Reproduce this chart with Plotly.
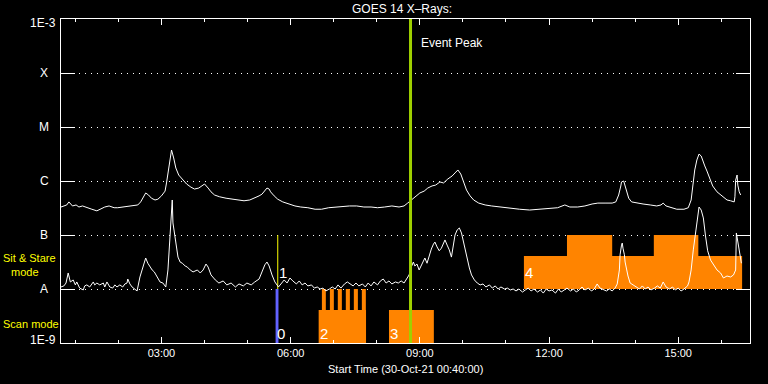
import math
import plotly.graph_objects as go
import pandas as pd

# ---------------- data ----------------
start_time = "2021-10-30 00:40:00"
end_time = "2021-10-30 16:40:00"

# GOES 14 long channel (1-8 A), minutes after start time, flux W/m^2
long_min = [0, 4, 8, 11, 14, 16, 21, 25, 30, 36, 43, 50, 55, 61, 67, 74, 79, 86, 93, 100,
            107, 111, 115, 118, 122, 126, 131, 135, 140, 145, 147, 150, 153, 154, 157, 160, 164, 170, 175, 181,
            186, 192, 196, 200, 205, 209, 214, 221, 230, 238, 246, 255, 263, 270, 276, 280, 284, 287, 290, 292,
            297, 302, 309, 317, 326, 334, 344, 354, 363, 373, 383, 393, 402, 412, 422, 432, 441, 451, 461, 471,
            478, 483, 489, 494, 500, 506, 511, 517, 522, 528, 533, 539, 545, 549, 553, 557, 561, 565, 570, 575,
            582, 591, 600, 611, 625, 639, 653, 667, 681, 692, 702, 709, 720, 730, 740, 748, 758, 768, 773, 777,
            780, 781, 784, 786, 788, 791, 795, 802, 811, 821, 830, 836, 839, 843, 850, 858, 868, 874, 878, 880,
            883, 886, 889, 892, 894, 897, 900, 904, 908, 914, 921, 928, 933, 938, 939, 940, 942, 943, 945, 947]
long_flux = [3.3e-7, 3.45e-7, 3.6e-7, 4.1e-7, 3.75e-7, 3.45e-7, 3.6e-7, 3.3e-7, 3.45e-7, 3.2e-7,
             3.0e-7, 2.8e-7, 3.0e-7, 3.3e-7, 3.45e-7, 3.2e-7, 3.2e-7, 3.3e-7, 3.3e-7, 3.45e-7,
             3.6e-7, 4.1e-7, 5.1e-7, 6.0e-7, 5.5e-7, 4.8e-7, 4.45e-7, 4.6e-7, 5.3e-7, 6.5e-7,
             9.2e-7, 1.74e-6, 3.44e-6, 3.75e-6, 2.67e-6, 1.74e-6, 1.29e-6, 1.04e-6, 8.8e-7, 7.7e-7,
             7.1e-7, 7.4e-7, 8.1e-7, 8.8e-7, 7.4e-7, 6.3e-7, 5.5e-7, 5.1e-7, 4.8e-7, 4.6e-7,
             4.45e-7, 4.3e-7, 4.45e-7, 4.8e-7, 5.3e-7, 5.7e-7, 6.8e-7, 7.4e-7, 7.1e-7, 6.3e-7,
             5.3e-7, 4.6e-7, 4.1e-7, 3.75e-7, 3.45e-7, 3.3e-7, 3.2e-7, 3.0e-7, 3.0e-7, 3.2e-7,
             3.3e-7, 3.45e-7, 3.45e-7, 3.45e-7, 3.3e-7, 3.3e-7, 3.2e-7, 3.3e-7, 3.45e-7, 3.3e-7,
             3.45e-7, 3.9e-7, 4.6e-7, 5.3e-7, 6.0e-7, 6.5e-7, 7.4e-7, 8.1e-7, 8.4e-7, 9.6e-7,
             9.2e-7, 1.09e-6, 1.24e-6, 1.41e-6, 1.6e-6, 1.35e-6, 1.0e-6, 6.8e-7, 5.3e-7, 4.45e-7,
             3.9e-7, 3.6e-7, 3.45e-7, 3.3e-7, 3.2e-7, 3.0e-7, 2.9e-7, 3.0e-7, 3.2e-7, 3.2e-7,
             3.6e-7, 3.3e-7, 3.3e-7, 3.45e-7, 3.75e-7, 3.9e-7, 3.9e-7, 3.9e-7, 4.1e-7, 5.5e-7,
             8.1e-7, 9.6e-7, 1.0e-6, 8.1e-7, 6.0e-7, 4.8e-7, 4.1e-7, 3.9e-7, 3.75e-7, 3.6e-7,
             3.45e-7, 3.6e-7, 3.9e-7, 3.45e-7, 3.2e-7, 3.0e-7, 3.0e-7, 3.2e-7, 4.45e-7, 8.4e-7,
             1.6e-6, 2.45e-6, 3.16e-6, 2.9e-6, 2.34e-6, 1.9e-6, 1.53e-6, 1.14e-6, 8.1e-7, 6.3e-7,
             5.3e-7, 4.45e-7, 4.3e-7, 4.1e-7, 5.1e-7, 1.04e-6, 1.29e-6, 8.4e-7, 6.3e-7, 5.5e-7]

# GOES 14 short channel (0.5-4 A)
short_min = [0, 4, 7, 10, 13, 17, 20, 22, 26, 31, 33, 36, 40, 45, 47, 50, 54, 59, 61, 64,
             68, 72, 75, 78, 82, 86, 89, 92, 93, 96, 99, 103, 106, 110, 114, 118, 121, 124, 127, 130,
             134, 138, 142, 146, 149, 151, 153, 155, 156, 160, 163, 166, 169, 173, 176, 180, 184, 190, 194, 198,
             202, 205, 209, 215, 220, 226, 231, 237, 243, 248, 254, 259, 265, 270, 276, 280, 284, 287, 290, 294,
             298, 303, 307, 311, 315, 319, 323, 328, 332, 336, 340, 344, 349, 353, 357, 361, 365, 369, 374, 378,
             382, 386, 390, 395, 399, 403, 407, 411, 415, 420, 424, 428, 432, 436, 441, 445, 449, 453, 457, 461,
             466, 470, 474, 478, 482, 485, 488, 491, 493, 496, 499, 502, 505, 507, 510, 513, 516, 519, 521, 524,
             527, 530, 532, 535, 538, 541, 544, 546, 549, 552, 555, 558, 560, 563, 566, 569, 572, 576, 580, 584,
             588, 592, 597, 601, 605, 609, 613, 618, 622, 626, 630, 634, 638, 643, 647, 651, 655, 659, 664, 668,
             672, 676, 680, 684, 689, 693, 697, 701, 705, 710, 714, 718, 722, 726, 730, 735, 739, 743, 747, 751,
             756, 760, 764, 768, 772, 775, 778, 779, 781, 782, 783, 785, 786, 788, 790, 793, 797, 802, 806, 810,
             814, 818, 822, 827, 831, 835, 839, 843, 848, 852, 856, 860, 864, 868, 873, 875, 878, 881, 884, 887,
             889, 892, 895, 898, 901, 905, 909, 914, 919, 923, 928, 933, 937, 940, 941, 942, 944, 947, 948]
short_flux = [1.09e-8, 1.14e-8, 1.29e-8, 1.98e-8, 1.35e-8, 1.47e-8, 1.19e-8, 1.35e-8, 1.04e-8, 9.6e-9,
              1.14e-8, 1.19e-8, 1.09e-8, 1.35e-8, 1.19e-8, 1.29e-8, 1.19e-8, 1.29e-8, 1.09e-8, 1.35e-8,
              1.09e-8, 1.04e-8, 1.19e-8, 1.09e-8, 1.19e-8, 1.09e-8, 1.24e-8, 1.29e-8, 1.53e-8, 1.24e-8,
              1.09e-8, 1.0e-8, 9.2e-9, 1.67e-8, 2.55e-8, 3.75e-8, 3.0e-8, 2.55e-8, 2.25e-8, 2.07e-8,
              1.67e-8, 1.35e-8, 1.29e-8, 1.09e-8, 2.25e-8, 6.0e-8, 1.41e-7, 4.45e-7, 1.67e-7, 7.1e-8,
              3.9e-8, 3.16e-8, 3.0e-8, 2.67e-8, 2.55e-8, 2.25e-8, 2.07e-8, 2.25e-8, 1.98e-8, 2.25e-8,
              2.9e-8, 2.55e-8, 1.82e-8, 1.47e-8, 1.29e-8, 1.41e-8, 1.19e-8, 1.29e-8, 1.09e-8, 1.24e-8,
              1.14e-8, 1.29e-8, 1.19e-8, 1.35e-8, 1.53e-8, 2.07e-8, 2.8e-8, 3.16e-8, 2.67e-8, 1.82e-8,
              1.35e-8, 1.09e-8, 1.24e-8, 1.47e-8, 1.29e-8, 1.6e-8, 1.41e-8, 1.24e-8, 1.41e-8, 1.19e-8,
              1.29e-8, 1.14e-8, 1.19e-8, 1.04e-8, 1.09e-8, 1.0e-8, 1.04e-8, 9.2e-9, 1.0e-8, 1.09e-8,
              1.0e-8, 1.19e-8, 1.04e-8, 1.24e-8, 1.35e-8, 1.24e-8, 1.14e-8, 1.29e-8, 1.14e-8, 1.24e-8,
              1.09e-8, 1.29e-8, 1.14e-8, 1.35e-8, 1.19e-8, 1.41e-8, 1.53e-8, 1.29e-8, 1.41e-8, 1.24e-8,
              1.35e-8, 1.29e-8, 1.41e-8, 1.29e-8, 1.53e-8, 1.82e-8, 2.55e-8, 3.16e-8, 2.67e-8, 2.9e-8,
              2.25e-8, 2.67e-8, 3.16e-8, 3.75e-8, 3.0e-8, 4.3e-8, 5.5e-8, 6.8e-8, 7.4e-8, 6.0e-8,
              5.1e-8, 5.7e-8, 6.8e-8, 8.1e-8, 6.5e-8, 5.3e-8, 3.9e-8, 5.7e-8, 1.0e-7, 1.24e-7,
              1.35e-7, 1.09e-7, 8.1e-8, 5.7e-8, 3.75e-8, 2.45e-8, 1.82e-8, 1.47e-8, 1.29e-8, 1.19e-8,
              1.24e-8, 1.09e-8, 1.19e-8, 1.04e-8, 1.14e-8, 1.0e-8, 1.09e-8, 1.0e-8, 1.04e-8, 9.6e-9,
              1.0e-8, 9.2e-9, 1.0e-8, 8.8e-9, 9.6e-9, 1.04e-8, 9.2e-9, 1.0e-8, 8.8e-9, 9.6e-9,
              8.4e-9, 1.0e-8, 9.2e-9, 9.6e-9, 8.4e-9, 1.0e-8, 8.8e-9, 9.6e-9, 1.04e-8, 9.2e-9,
              1.0e-8, 8.8e-9, 9.6e-9, 1.09e-8, 9.6e-9, 1.04e-8, 9.2e-9, 1.0e-8, 1.24e-8, 1.04e-8,
              9.6e-9, 9.2e-9, 1.0e-8, 9.2e-9, 1.04e-8, 1.24e-8, 2.25e-8, 4.3e-8, 6.5e-8, 7.1e-8,
              5.7e-8, 4.3e-8, 3.16e-8, 2.25e-8, 1.74e-8, 1.29e-8, 1.19e-8, 1.09e-8, 1.0e-8, 1.14e-8,
              1.0e-8, 1.09e-8, 9.6e-9, 1.04e-8, 1.14e-8, 1.04e-8, 1.35e-8, 1.09e-8, 1.0e-8, 1.09e-8,
              9.6e-9, 1.04e-8, 9.2e-9, 1.0e-8, 1.14e-8, 1.35e-8, 2.25e-8, 5.3e-8, 1.14e-7, 2.35e-7,
              3.3e-7, 2.9e-7, 2.07e-7, 9.6e-8, 5.1e-8, 3.44e-8, 2.8e-8, 2.25e-8, 1.98e-8, 1.6e-8,
              1.74e-8, 1.67e-8, 1.82e-8, 2.25e-8, 1.09e-7, 8.8e-8, 5.7e-8, 3.3e-8, 3.0e-8]

# observing modes (times on 30-Oct-21)
scan0_start, scan0_end = "05:39:00", "05:43:00"          # raster 0 (blue)
sitstare1_time = "05:42:00"                              # sit & stare 1 (yellow)
scan_block_starts = ["06:39:00", "08:17:00"]             # rasters 2, 3
scan_block_ends = ["07:45:00", "09:19:30"]
scan_block_top = 4.1e-9
scan_tooth_starts = ["06:43:30", "06:54:40", "07:05:40", "07:16:50", "07:28:00", "07:39:10"]
scan_tooth_ends = ["06:49:00", "07:00:10", "07:11:20", "07:22:30", "07:33:40", "07:44:45"]
scan_tooth_top = 1.0e-8
sit_block_start, sit_block_end = "11:25:00", "16:29:00"  # sit & stare 4
sit_block_top = 4.1e-8
sit_tall_starts = ["12:25:00", "14:26:00"]
sit_tall_ends = ["13:28:00", "15:28:00"]
sit_tall_top = 1.0e-7
event_peak_time = "08:47:00"

y_levels = [1e-3, 1e-4, 1e-5, 1e-6, 1e-7, 1e-8, 1e-9]
y_labels = ["1E-3", "X", "M", "C", "B", "A", "1E-9"]

# ---------------- figure ----------------
t0 = pd.Timestamp(start_time)
day = t0.strftime("%Y-%m-%d")


def tm(hms):
    return pd.Timestamp(f"{day} {hms}")


def mins_to_time(mins):
    return [t0 + pd.Timedelta(minutes=m) for m in mins]


ORANGE = "#ff8400"
BLUE = "#6262ff"
YELLOW = "#ffff00"
GREEN = "#9fd000"
FONT = "Liberation Sans"

fig = go.Figure()


def rect(a, b, lo, hi, color):
    fig.add_trace(go.Scatter(x=[tm(a), tm(a), tm(b), tm(b), tm(a)], y=[lo, hi, hi, lo, lo],
                             mode="lines", fill="toself", fillcolor=color,
                             line=dict(width=0, color=color), hoverinfo="skip", showlegend=False))


for a, b in zip(scan_block_starts, scan_block_ends):
    rect(a, b, 1e-9, scan_block_top, ORANGE)
for a, b in zip(scan_tooth_starts, scan_tooth_ends):
    rect(a, b, scan_block_top * 0.98, scan_tooth_top, ORANGE)
rect(sit_block_start, sit_block_end, 1e-8, sit_block_top, ORANGE)
for a, b in zip(sit_tall_starts, sit_tall_ends):
    rect(a, b, sit_block_top * 0.98, sit_tall_top, ORANGE)
rect(scan0_start, scan0_end, 1e-9, 1e-8, BLUE)

fig.add_trace(go.Scatter(x=[tm(sitstare1_time), tm(sitstare1_time)], y=[1e-8, 1e-7], mode="lines",
                         line=dict(color=YELLOW, width=1), hoverinfo="skip", showlegend=False))

fig.add_trace(go.Scatter(x=mins_to_time(long_min), y=long_flux, mode="lines",
                         line=dict(color="white", width=1), showlegend=False))
fig.add_trace(go.Scatter(x=mins_to_time(short_min), y=short_flux, mode="lines",
                         line=dict(color="white", width=1), showlegend=False))

fig.add_trace(go.Scatter(x=[tm(event_peak_time), tm(event_peak_time)], y=[1e-9, 1e-3], mode="lines",
                         line=dict(color=GREEN, width=3), hoverinfo="skip", showlegend=False))

# layout geometry (pixels)
L, R, T, B = 61, 750, 19, 343
W, H = 768, 384


def px(xp, yp):
    return (xp - L) / (R - L), (B - yp) / (B - T)


annotations = []


def label(text, xp, yp, color="white", size=12, xanchor="center"):
    x, y = px(xp, yp)
    annotations.append(dict(text=text, x=x, y=y, xref="paper", yref="paper", showarrow=False,
                            xanchor=xanchor, yanchor="middle", borderpad=0,
                            font=dict(family=FONT, size=size, color=color)))


label("GOES 14 X\u2013Rays:", 402, 9)
label("Event Peak", 420, 43, xanchor="left")
label("Start Time (30-Oct-21 00:40:00)", 405, 368.5, size=11)
label_y = {"1E-3": (57, 23, "right"), "1E-9": (57, 340, "right")}
for val, txt in zip(y_levels, y_labels):
    if txt in label_y:
        xp, yp, anc = label_y[txt]
    else:
        xp, yp, anc = 44, B - (math.log10(val) + 9) * (B - T) / 6, "center"
    label(txt, xp, yp, xanchor=anc)
label("Sit & Stare", 2, 257.5, color=YELLOW, size=11, xanchor="left")
label("mode", 24.5, 271.5, color=YELLOW, size=11)
label("Scan mode", 2, 323.5, color=YELLOW, size=11, xanchor="left")
for txt, xp, yp in [("0", 280.5, 333), ("1", 283, 272), ("2", 324, 333), ("3", 393.5, 333), ("4", 529, 272)]:
    label(txt, xp, yp, size=15)

fig.update_layout(
    width=W, height=H,
    margin=dict(l=L, r=W - R, t=T, b=H - B, pad=0),
    paper_bgcolor="black", plot_bgcolor="black",
    showlegend=False,
    annotations=annotations,
    xaxis=dict(type="date", range=[t0, pd.Timestamp(end_time)],
               tick0=tm("03:00:00"), dtick=3 * 3600000, tickformat="%H:%M",
               ticks="inside", ticklen=6, tickcolor="white", tickwidth=1,
               showline=True, linecolor="white", linewidth=1, mirror="ticks",
               showgrid=False, zeroline=False,
               tickfont=dict(family=FONT, size=11, color="white"),
               minor=dict(tick0=tm("01:00:00"), dtick=3600000, ticks="inside", ticklen=3,
                          tickcolor="white", showgrid=False)),
    yaxis=dict(type="log", range=[-9, -3], tickvals=y_levels,
               ticks="inside", ticklen=14, tickcolor="white", tickwidth=1,
               showline=True, linecolor="white", linewidth=1, mirror="ticks",
               showticklabels=False, showgrid=True, gridcolor="white", gridwidth=1,
               griddash="1px,5px", zeroline=False),
)

fig.write_html("out.html", config={"displayModeBar": False},
               post_script="document.body.style.margin='0';document.body.style.background='black';")
